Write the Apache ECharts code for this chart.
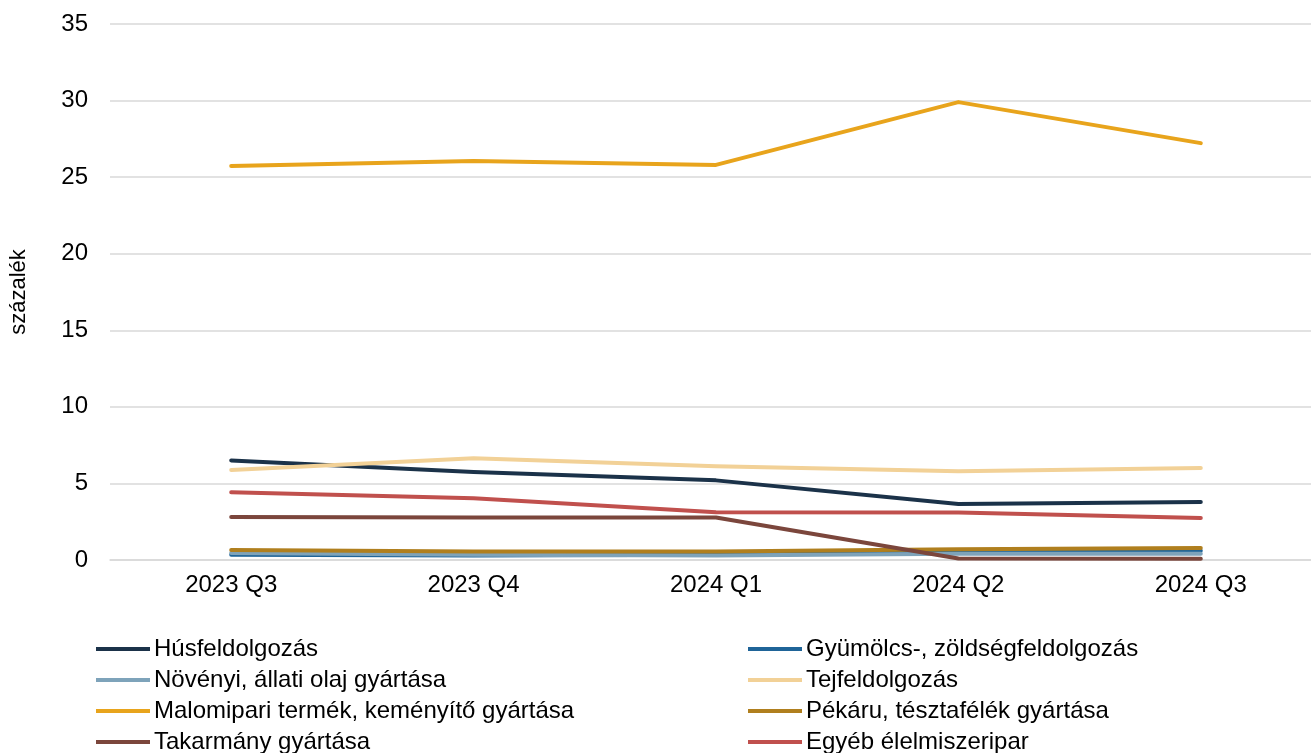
<!DOCTYPE html>
<html><head><meta charset="utf-8">
<script src="https://cdn.jsdelivr.net/npm/echarts@6/dist/echarts.min.js"></script>
<style>html,body{margin:0;padding:0;background:#fff;overflow:hidden}#c{width:1322px;height:753px}</style>
</head><body><div id="c"></div>
<script>
var categories = ['2023 Q3','2023 Q4','2024 Q1','2024 Q2','2024 Q3'];
var husfeldolgozas = [6.5, 5.75, 5.2, 3.65, 3.78];
var gyumolcs = [0.35, 0.3, 0.35, 0.55, 0.6];
var novenyi = [0.45, 0.35, 0.3, 0.4, 0.4];
var tejfeldolgozas = [5.88, 6.65, 6.12, 5.8, 6.0];
var malomipari = [25.73, 26.05, 25.8, 29.9, 27.22];
var pekaru = [0.65, 0.55, 0.55, 0.7, 0.78];
var takarmany = [2.8, 2.77, 2.77, 0.1, 0.08];
var egyeb = [4.42, 4.03, 3.12, 3.1, 2.74];

var names = ['Húsfeldolgozás','Gyümölcs-, zöldségfeldolgozás','Növényi, állati olaj gyártása','Tejfeldolgozás','Malomipari termék, keményítő gyártása','Pékáru, tésztafélék gyártása','Takarmány gyártása','Egyéb élelmiszeripar'];
var datas = [husfeldolgozas, gyumolcs, novenyi, tejfeldolgozas, malomipari, pekaru, takarmany, egyeb];
var colors = ['#1b3249','#1f6498','#7ea3ba','#f2d197','#e8a41c','#b07f1e','#7b463c','#c0504d'];

var series = names.map(function(n,i){
  return {name:n,type:'line',data:datas[i],symbol:'none',showSymbol:false,
    lineStyle:{width:4,color:colors[i],cap:'round',join:'round'},itemStyle:{color:colors[i]},z:2+i};
});
var font = 'Liberation Sans, Arial, sans-serif';
var legends = names.map(function(n,i){
  var col = i % 2, row = Math.floor(i/2);
  return {orient:'horizontal',left: col ? 748 : 96, top: 637 + row*31, padding:0,
    itemWidth:54,itemHeight:4,icon:'path://M0,0L54,0L54,4L0,4Z',
    data:[n],
    textStyle:{fontFamily:font,fontSize:24,color:'#000',lineHeight:24,padding:[0,0,0,-1]}};
});
var chart = echarts.init(document.getElementById('c'));
chart.setOption({
  animation:false,
  color:colors,
  grid:{left:107,top:24,bottom:193,right:0,containLabel:false},
  legend:legends,
  xAxis:{type:'category',data:categories,boundaryGap:true,
    axisLine:{lineStyle:{color:'#d9d9d9',width:1.5}},axisTick:{show:false},
    axisLabel:{fontFamily:font,fontSize:24,color:'#000',margin:13}},
  yAxis:{type:'value',min:0,max:35,interval:5,name:'százalék',nameLocation:'middle',nameGap:80,
    nameTextStyle:{fontFamily:font,fontSize:22,color:'#000'},
    axisLabel:{fontFamily:font,fontSize:24,color:'#000',margin:22},
    splitLine:{lineStyle:{color:'#d9d9d9',width:1.5}},axisLine:{show:false},axisTick:{show:false}},
  series:series
});
</script></body></html>
